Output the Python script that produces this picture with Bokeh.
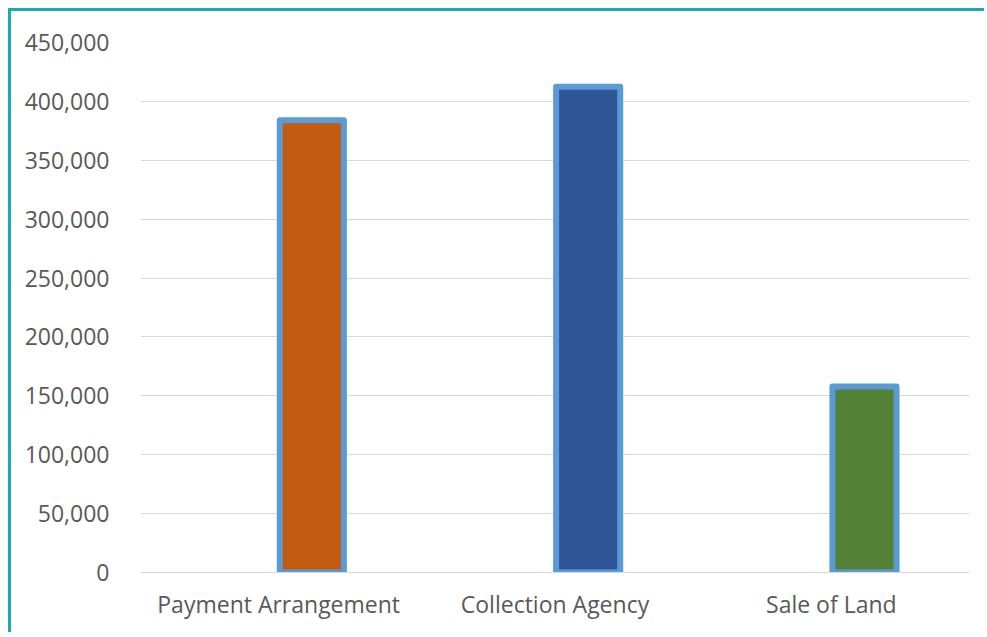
from bokeh.plotting import figure
from bokeh.models import ColumnDataSource, NumeralTickFormatter, FixedTicker, Range1d
from bokeh.transform import dodge
from bokeh.embed import file_html
from bokeh.resources import INLINE

categories = ["Payment Arrangement", "Collection Agency", "Sale of Land"]
values = [384000, 412500, 158000]
colors = ["#C55A11", "#2F5597", "#538135"]
y_ticks = [0, 50000, 100000, 150000, 200000, 250000, 300000, 350000, 400000, 450000]

src = ColumnDataSource(dict(cat=categories, val=values, col=colors))

p = figure(x_range=categories, y_range=Range1d(0, 450000), width=976, height=624,
           output_backend="svg", toolbar_location=None,
           min_border_left=129, min_border_right=18, min_border_top=31, min_border_bottom=63)
p.styles = {"margin-left": "8px", "margin-top": "8px",
            "border-top": "3px solid #1AABB1", "border-left": "3px solid #1AABB1",
            "border-right": "none", "border-bottom": "none"}

p.vbar(x=dodge("cat", 0.12, range=p.x_range), top="val", source=src, width=0.232,
       fill_color="col", line_color="#5B9BD5", line_width=6, line_join="round")

p.outline_line_color = None
p.xgrid.grid_line_color = None
p.ygrid.grid_line_color = "#D9D9D9"
p.ygrid.grid_line_width = 1

p.yaxis.ticker = FixedTicker(ticks=y_ticks)
p.yaxis.formatter = NumeralTickFormatter(format="0,0")
for ax in (p.xaxis, p.yaxis):
    ax.axis_line_color = None
    ax.major_tick_line_color = None
    ax.minor_tick_line_color = None
    ax.major_label_text_font = "Open Sans"
    ax.major_label_text_font_size = "23px"
    ax.major_label_text_color = "#595959"
p.xaxis.axis_line_color = "#D9D9D9"
p.yaxis.major_label_standoff = 25
p.xaxis.major_label_standoff = 9

open("out.html", "w").write(file_html(p, INLINE))
